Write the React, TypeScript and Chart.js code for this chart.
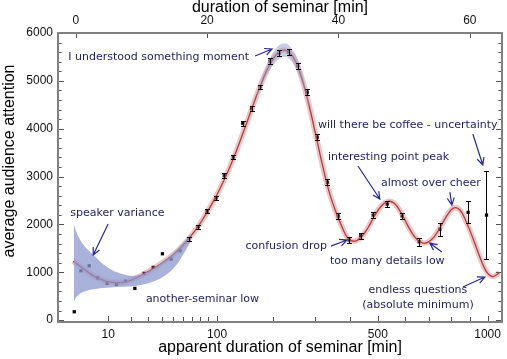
import React, { useEffect, useRef } from "react";
import { Chart, registerables } from "chart.js";
Chart.register(...registerables);

// measured points (x = real duration in minutes, top axis)
const pointMinutes = [-0.23, 0.79, 2.05, 3.32, 4.79, 6.21, 7.57, 9.0, 10.42, 11.79, 13.2, 14.52, 15.89, 17.22, 18.63, 20.0, 21.37, 22.62, 24.0, 25.43, 26.77, 28.06, 29.58, 30.98, 32.41, 33.8, 35.25, 36.78, 38.33, 39.97, 41.64, 43.38, 45.29, 47.42, 49.7, 52.29, 55.44, 59.74, 62.54];
const pointAttention = [174, 1031, 1135, 884, 767, 746, 815, 663, 976, 1102, 1386, 1275, 1449, 1693, 1951, 2273, 2555, 3017, 3408, 4113, 4426, 4871, 5415, 5582, 5607, 5310, 4763, 3820, 2881, 2174, 1673, 1763, 2195, 2425, 2174, 1637, 1896, 2252, 2195];
const pointError = [0, 0, 0, 0, 0, 0, 0, 0, 0, 0, 0, 0, 0, 40, 40, 40, 40, 50, 50, 50, 50, 50, 60, 60, 60, 60, 60, 60, 60, 60, 60, 60, 60, 60, 60, 80, 130, 230, 920];

// fitted curve
const curveMinutes = [-0.4, 0.5, 1.5, 2.5, 3.5, 4.5, 5.5, 6.5, 7.5, 8.5, 9.5, 10.5, 11.5, 12.5, 13.5, 14.5, 15.5, 16.5, 17.5, 18.5, 19.5, 20.5, 21.5, 22.5, 23.5, 24.5, 25.5, 26.5, 27.5, 28.5, 29.5, 30.5, 31.5, 32.5, 33.5, 34.5, 35.5, 36.5, 37.5, 38.5, 39.5, 40.5, 41.5, 42.5, 43.5, 44.5, 45.5, 46.5, 47.5, 48.5, 49.5, 50.5, 51.5, 52.5, 53.5, 54.5, 55.5, 56.5, 57.5, 58.5, 59.5, 60.5, 61.5, 62.5, 63.5, 64.5];
const curveAttention = [1230, 1140, 1040, 940, 870, 815, 790, 780, 795, 840, 900, 975, 1050, 1135, 1230, 1330, 1450, 1590, 1750, 1930, 2140, 2370, 2620, 2900, 3210, 3550, 3920, 4300, 4680, 5030, 5330, 5540, 5640, 5600, 5400, 5020, 4500, 3900, 3280, 2720, 2300, 1960, 1700, 1650, 1740, 1930, 2180, 2380, 2480, 2440, 2250, 1990, 1760, 1630, 1620, 1730, 1940, 2180, 2340, 2300, 2040, 1700, 1330, 1020, 910, 990];

// speaker variance band
const speakerBandMinutes = [-0.3, 0.2, 1.2, 2.7, 4.7, 6.8, 9.3, 11.5, 13.5, 15.2, 16.5, 17.5];
const speakerBandUpper = [2010, 1812, 1568, 1359, 1114, 976, 930, 1060, 1250, 1450, 1640, 1800];
const speakerBandLower = [383, 500, 590, 645, 675, 695, 720, 790, 920, 1130, 1400, 1640];

// band around the peak
const peakBandMinutes = [27.5, 29, 30.5, 31.5, 32.5, 34, 35.5];
const peakBandUpper = [4740, 5300, 5680, 5780, 5740, 5380, 4560];
const peakBandLower = [4620, 5100, 5400, 5500, 5460, 5120, 4440];

const topTicks = [0, 20, 40, 60];
const yTicks = [0, 1000, 2000, 3000, 4000, 5000, 6000];
const apparentTickValues = [10, 20, 30, 40, 50, 60, 70, 80, 90, 100, 200, 300, 400, 500, 600, 700, 800, 900, 1000];
const apparentTickMinutes = [4.94, 8.44, 11.03, 13.16, 14.83, 16.35, 17.72, 18.94, 20.15, 21.52, 30.04, 36.43, 41.75, 46.0, 50.1, 53.8, 57.2, 60.0, 62.7];
const apparentLabelled = [10, 100, 500, 1000];

type Note = { lines: string[]; x: number; y: number; align: CanvasTextAlign; arrow: number[] | null };
const notes: Note[] = [
  { lines: ["I understood something moment"], x: -1.14, y: 5499, align: "left", arrow: [27.3, 5520, 29.89, 5666] },
  { lines: ["speaker variance"], x: -0.84, y: 2237, align: "left", arrow: [4.94, 2007, 2.66, 1359] },
  { lines: ["another-seminar low"], x: 10.68, y: 439, align: "left", arrow: null },
  { lines: ["confusion drop"], x: 38.25, y: 1547, align: "right", arrow: [38.86, 1547, 41.3, 1673] },
  { lines: ["too many details low"], x: 38.71, y: 1234, align: "left", arrow: [55.74, 1422, 53.9, 1610] },
  { lines: ["interesting point peak"], x: 38.4, y: 3408, align: "left", arrow: [42.97, 3220, 46.3, 2530] },
  { lines: ["almost over cheer"], x: 46.46, y: 2864, align: "left", arrow: [56.96, 2676, 57.27, 2404] },
  { lines: ["will there be coffee - uncertainty"], x: 36.88, y: 4077, align: "left", arrow: [60.46, 3889, 61.98, 3241] },
  { lines: ["endless questions", "(absolute minimum)"], x: 52.1, y: 627, align: "center", arrow: [58.94, 690, 62.29, 899] },
];

const X_MIN = -2.7;
const X_MAX = 64.9;
const Y_MIN = -40;
const Y_MAX = 6000;

const zip = (xs: number[], ys: number[]) => xs.map((x, i) => ({ x, y: ys[i] }));

const decoPlugin = {
  id: "deco",
  afterDatasetsDraw(chart: any) {
    const ctx = chart.ctx;
    const xs = chart.scales.xTop;
    const ys = chart.scales.y;
    ctx.save();
    ctx.strokeStyle = "#000";
    ctx.lineWidth = 1;
    pointMinutes.forEach((m, i) => {
      const e = pointError[i];
      if (!e) return;
      const px = Math.round(xs.getPixelForValue(m)) + 0.5;
      const y1 = Math.round(ys.getPixelForValue(pointAttention[i] - e)) + 0.5;
      const y2 = Math.round(ys.getPixelForValue(pointAttention[i] + e)) + 0.5;
      ctx.beginPath();
      ctx.moveTo(px, y1);
      ctx.lineTo(px, y2);
      ctx.moveTo(px - 2.5, y1);
      ctx.lineTo(px + 2.5, y1);
      ctx.moveTo(px - 2.5, y2);
      ctx.lineTo(px + 2.5, y2);
      ctx.stroke();
    });
    ctx.restore();
  },
  afterDraw(chart: any) {
    const ctx = chart.ctx;
    const { left, right, top, bottom } = chart.chartArea;
    const xs = chart.scales.xTop;
    const xb = chart.scales.x;
    const ys = chart.scales.y;
    ctx.save();
    // ticks
    ctx.strokeStyle = "#555";
    ctx.lineWidth = 1;
    ctx.beginPath();
    for (let v = 0; v <= Y_MAX; v += 200) {
      const py = Math.round(ys.getPixelForValue(v)) + 0.5;
      const len = v % 1000 === 0 ? 6 : 3.5;
      ctx.moveTo(left, py);
      ctx.lineTo(left + len, py);
      ctx.moveTo(right, py);
      ctx.lineTo(right - len, py);
    }
    topTicks.forEach((v) => {
      const px = Math.round(xs.getPixelForValue(v)) + 0.5;
      ctx.moveTo(px, top);
      ctx.lineTo(px, top + 5);
    });
    apparentTickMinutes.forEach((m, i) => {
      const px = Math.round(xb.getPixelForValue(m)) + 0.5;
      const len = apparentLabelled.includes(apparentTickValues[i]) ? 6 : 5;
      ctx.moveTo(px, bottom);
      ctx.lineTo(px, bottom - len);
    });
    ctx.stroke();
    // frame
    ctx.strokeStyle = "#808080";
    ctx.lineWidth = 2;
    ctx.strokeRect(left, top, right - left, bottom - top);

    // y title
    ctx.fillStyle = "#000";
    ctx.font = '16px "Liberation Sans", Arial, sans-serif';
    ctx.textAlign = "center";
    ctx.textBaseline = "middle";
    ctx.translate(10, 161);
    ctx.rotate(-Math.PI / 2);
    ctx.fillText("average audience attention", 0, 0);
    ctx.setTransform(1, 0, 0, 1, 0, 0);

    // notes
    ctx.font = '11px "DejaVu Sans", sans-serif';
    ctx.textBaseline = "middle";
    notes.forEach((n) => {
      ctx.fillStyle = "#1e1e66";
      ctx.textAlign = n.align;
      const px = xs.getPixelForValue(n.x);
      const py = ys.getPixelForValue(n.y);
      n.lines.forEach((line, k) => ctx.fillText(line, px, py + k * 15));
      if (n.arrow) {
        const x1 = xs.getPixelForValue(n.arrow[0]);
        const y1 = ys.getPixelForValue(n.arrow[1]);
        const x2 = xs.getPixelForValue(n.arrow[2]);
        const y2 = ys.getPixelForValue(n.arrow[3]);
        const ang = Math.atan2(y2 - y1, x2 - x1);
        const hl = 8;
        ctx.strokeStyle = "#2828a0";
        ctx.lineWidth = 1.2;
        ctx.beginPath();
        ctx.moveTo(x1, y1);
        ctx.lineTo(x2, y2);
        ctx.moveTo(x2 - hl * Math.cos(ang - 0.45), y2 - hl * Math.sin(ang - 0.45));
        ctx.lineTo(x2, y2);
        ctx.lineTo(x2 - hl * Math.cos(ang + 0.45), y2 - hl * Math.sin(ang + 0.45));
        ctx.stroke();
      }
    });
    ctx.restore();
  },
};

export default function App() {
  const ref = useRef<HTMLCanvasElement | null>(null);
  useEffect(() => {
    document.body.style.margin = "0";
    if (!ref.current) return;
    const tickFont = { family: '"Liberation Sans", Arial, sans-serif', size: 12 };
    const chart = new Chart(ref.current, {
      type: "line",
      data: {
        datasets: [
          {
            data: zip(speakerBandMinutes, speakerBandUpper),
            borderWidth: 0,
            pointRadius: 0,
            backgroundColor: "rgba(140,152,205,0.75)",
            fill: "+1",
            tension: 0.4,
            xAxisID: "xTop",
            yAxisID: "y",
          },
          {
            data: zip(speakerBandMinutes, speakerBandLower),
            borderWidth: 0,
            pointRadius: 0,
            fill: false,
            tension: 0.4,
            xAxisID: "xTop",
            yAxisID: "y",
          },
          {
            data: zip(peakBandMinutes, peakBandUpper),
            borderWidth: 0,
            pointRadius: 0,
            backgroundColor: "rgba(150,160,210,0.5)",
            fill: "+1",
            tension: 0.4,
            xAxisID: "xTop",
            yAxisID: "y",
          },
          {
            data: zip(peakBandMinutes, peakBandLower),
            borderWidth: 0,
            pointRadius: 0,
            fill: false,
            tension: 0.4,
            xAxisID: "xTop",
            yAxisID: "y",
          },
          {
            data: zip(curveMinutes, curveAttention),
            borderColor: "rgba(205,105,105,0.38)",
            borderWidth: 5.5,
            pointRadius: 0,
            fill: false,
            tension: 0.4,
            xAxisID: "xTop",
            yAxisID: "y",
          },
          {
            data: zip(curveMinutes, curveAttention),
            borderColor: "#a82020",
            borderWidth: 1.3,
            pointRadius: 0,
            fill: false,
            tension: 0.4,
            xAxisID: "xTop",
            yAxisID: "y",
          },
          {
            data: zip(pointMinutes, pointAttention),
            showLine: false,
            pointStyle: "rect",
            pointRadius: 2.3,
            pointBackgroundColor: "#000",
            pointBorderColor: "#000",
            pointBorderWidth: 0,
            xAxisID: "xTop",
            yAxisID: "y",
          },
        ],
      },
      options: {
        animation: false,
        responsive: false,
        devicePixelRatio: 1,
        layout: { padding: { right: 5, left: 0, top: 0, bottom: 0 } },
        plugins: { legend: { display: false }, tooltip: { enabled: false } },
        scales: {
          xTop: {
            type: "linear",
            position: "top",
            min: X_MIN,
            max: X_MAX,
            afterBuildTicks: (s: any) => {
              s.ticks = topTicks.map((v) => ({ value: v }));
            },
            afterFit: (s: any) => {
              s.height = 33;
            },
            grid: { display: false, drawTicks: false },
            border: { display: false },
            ticks: { font: tickFont, color: "#111", padding: 5, maxRotation: 0, autoSkip: false, callback: (v: any) => String(v) },
            title: {
              display: true,
              text: "duration of seminar [min]",
              color: "#000",
              font: { family: '"Liberation Sans", Arial, sans-serif', size: 16, lineHeight: 1 },
              padding: { top: 0, bottom: 0 },
            },
          },
          x: {
            type: "linear",
            position: "bottom",
            min: X_MIN,
            max: X_MAX,
            afterBuildTicks: (s: any) => {
              s.ticks = apparentTickMinutes.map((v) => ({ value: v }));
            },
            afterFit: (s: any) => {
              s.height = 37;
            },
            grid: { display: false, drawTicks: false },
            border: { display: false },
            ticks: {
              font: tickFont,
              color: "#111",
              padding: 5,
              maxRotation: 0,
              autoSkip: false,
              callback: (_v: any, i: number) => (apparentLabelled.includes(apparentTickValues[i]) ? String(apparentTickValues[i]) : ""),
            },
            title: {
              display: true,
              text: "apparent duration of seminar [min]",
              color: "#000",
              font: { family: '"Liberation Sans", Arial, sans-serif', size: 16, lineHeight: 1.2 },
              padding: { top: 0, bottom: 2 },
            },
          },
          y: {
            type: "linear",
            position: "left",
            min: Y_MIN,
            max: Y_MAX,
            afterBuildTicks: (s: any) => {
              s.ticks = yTicks.map((v) => ({ value: v }));
            },
            afterFit: (s: any) => {
              s.width = 58;
            },
            grid: { display: false, drawTicks: false },
            border: { display: false },
            ticks: { font: tickFont, color: "#111", padding: 5, callback: (v: any) => String(v) },
          },
        },
      },
      plugins: [decoPlugin],
    } as any);
    return () => chart.destroy();
  }, []);
  return (
    <div style={{ width: 507, height: 359 }}>
      <canvas ref={ref} width={507} height={359} />
    </div>
  );
}
